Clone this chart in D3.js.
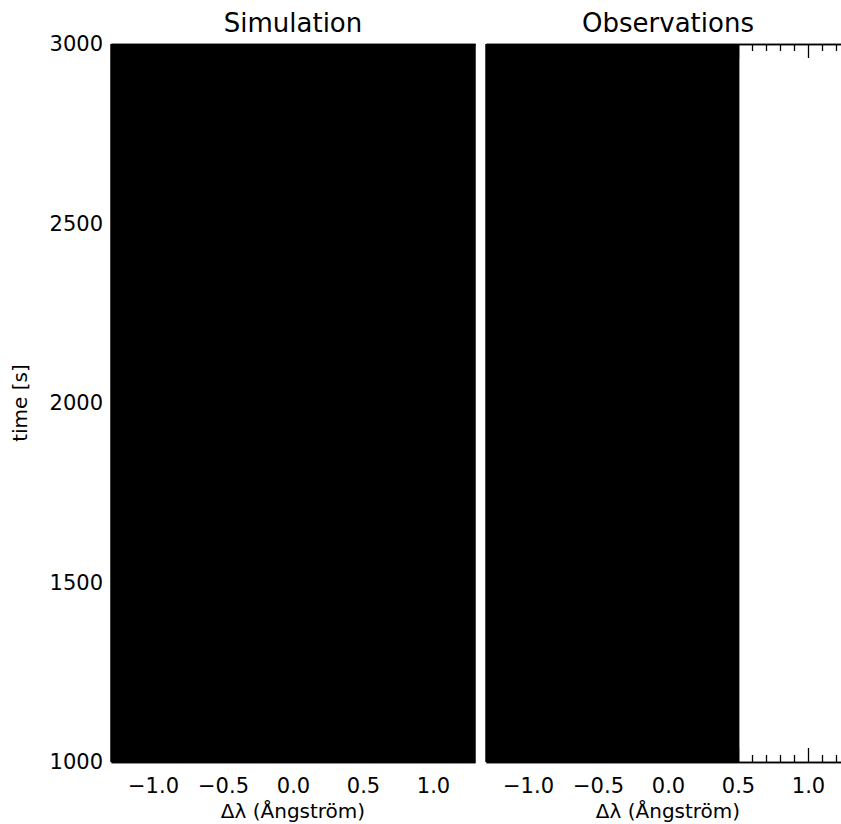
<!DOCTYPE html>
<html>
<head>
<meta charset="utf-8">
<script src="https://cdn.jsdelivr.net/npm/d3@7"></script>
<style>
  body { margin: 0; background: #fff; }
  text { font-family: "DejaVu Sans", sans-serif; fill: #000; }
</style>
</head>
<body>
<div id="chart"></div>
<script>
// panels and axis ranges
const panelTitles = ["Simulation", "Observations"];
const lambdaDomain = [-1.3, 1.3];   // Δλ in Ångström
const timeDomain = [1000, 3000];    // seconds
// part of each panel covered by the (saturated, all black) intensity image
const imageLambda = [[-1.3, 1.3], [-1.3, 0.51]];
const imageTime = [[1000, 3000], [1000, 3000]];
const xTicks = [-1.0, -0.5, 0.0, 0.5, 1.0];
const xMinorTicks = [-1.2, -1.1, -0.9, -0.8, -0.7, -0.6, -0.4, -0.3, -0.2, -0.1,
                     0.1, 0.2, 0.3, 0.4, 0.6, 0.7, 0.8, 0.9, 1.1, 1.2];
const yTicks = [1000, 1500, 2000, 2500, 3000];

const width = 841, height = 824;
const marginTop = 44, marginBottom = 62, marginLeft = 111;
const panelWidth = 364, panelGap = 11;

const svg = d3.select("#chart").append("svg")
    .attr("width", width)
    .attr("height", height)
    .attr("viewBox", [0, 0, width, height]);

svg.append("rect").attr("width", width).attr("height", height).attr("fill", "#fff");

const yScale = d3.scaleLinear(timeDomain, [height - marginBottom, marginTop]);

const fmt = d => (d < 0 ? "\u2212" : "") + Math.abs(d).toFixed(1);

panelTitles.forEach((title, i) => {
  const x0 = marginLeft + i * (panelWidth + panelGap);
  const xScale = d3.scaleLinear(lambdaDomain, [x0, x0 + panelWidth]);
  const g = svg.append("g");

  // frame + ticks (drawn first, image on top like IDL tv)
  const bottomMajor = d3.axisBottom(xScale).tickValues(xTicks).tickSize(-14).tickSizeOuter(0).tickFormat(fmt);
  const bottomMinor = d3.axisBottom(xScale).tickValues(xMinorTicks).tickSize(-7).tickSizeOuter(0).tickFormat("");
  const topMajor = d3.axisTop(xScale).tickValues(xTicks).tickSize(-14).tickSizeOuter(0).tickFormat("");
  const topMinor = d3.axisTop(xScale).tickValues(xMinorTicks).tickSize(-7).tickSizeOuter(0).tickFormat("");

  const styleAxis = a => a
      .call(s => s.selectAll(".domain").attr("stroke", "#000").attr("stroke-width", 1.5))
      .call(s => s.selectAll(".tick line").attr("stroke", "#000").attr("stroke-width", 1.3));

  const yb = yScale(timeDomain[0]), yt = yScale(timeDomain[1]);
  g.append("g").attr("transform", `translate(0,${yb})`).call(bottomMinor).call(styleAxis);
  g.append("g").attr("transform", `translate(0,${yb})`).call(bottomMajor).call(styleAxis)
      .call(s => s.selectAll(".tick text")
          .attr("font-size", 21)
          .attr("font-family", "DejaVu Sans, sans-serif")
          .attr("fill", "#000")
          .attr("dy", 0).attr("y", 31));
  g.append("g").attr("transform", `translate(0,${yt})`).call(topMinor).call(styleAxis);
  g.append("g").attr("transform", `translate(0,${yt})`).call(topMajor).call(styleAxis);

  g.append("line")
      .attr("x1", x0).attr("x2", x0).attr("y1", yb).attr("y2", yt)
      .attr("stroke", "#000").attr("stroke-width", 1.5);
  g.append("line")
      .attr("x1", x0 + panelWidth).attr("x2", x0 + panelWidth).attr("y1", yb).attr("y2", yt)
      .attr("stroke", "#000").attr("stroke-width", 1.5);

  // intensity image
  g.append("rect")
      .attr("x", xScale(imageLambda[i][0]))
      .attr("y", yScale(imageTime[i][1]))
      .attr("width", xScale(imageLambda[i][1]) - xScale(imageLambda[i][0]))
      .attr("height", yScale(imageTime[i][0]) - yScale(imageTime[i][1]))
      .attr("fill", "#000");

  // panel title
  g.append("text")
      .attr("x", xScale(0))
      .attr("y", 32)
      .attr("text-anchor", "middle")
      .attr("font-size", 26)
      .text(title);

  // x axis title
  g.append("text")
      .attr("x", xScale(0))
      .attr("y", 818)
      .attr("text-anchor", "middle")
      .attr("font-size", 20)
      .text("Δλ (Ångström)");
});

// y axis labels on the left panel
svg.append("g")
    .attr("transform", `translate(${marginLeft},0)`)
    .call(d3.axisLeft(yScale).tickValues(yTicks).tickSize(0).tickPadding(8).tickFormat(d3.format("d")))
    .call(g => g.select(".domain").remove())
    .call(g => g.selectAll(".tick text")
        .attr("font-size", 21)
        .attr("font-family", "DejaVu Sans, sans-serif")
        .attr("fill", "#000"));

svg.append("text")
    .attr("transform", `translate(27,${yScale(2000)}) rotate(-90)`)
    .attr("text-anchor", "middle")
    .attr("font-size", 20)
    .text("time [s]");
</script>
</body>
</html>
